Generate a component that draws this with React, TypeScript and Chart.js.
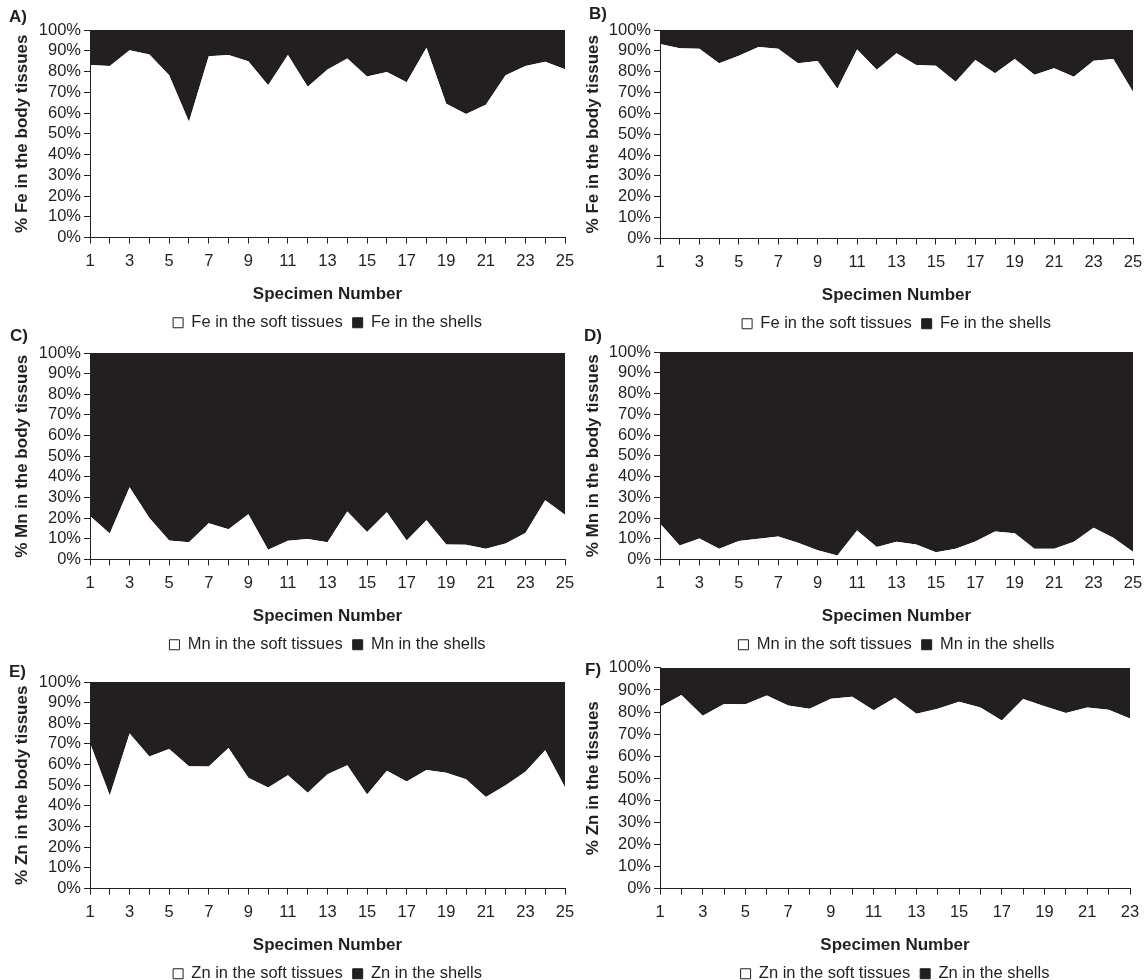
import React, { useEffect, useRef } from "react";
import { Chart, registerables } from "chart.js";

Chart.register(...registerables);

// ---------- data ----------
const specimens25 = ["1","2","3","4","5","6","7","8","9","10","11","12","13","14","15","16","17","18","19","20","21","22","23","24","25"];
const specimens23 = ["1","2","3","4","5","6","7","8","9","10","11","12","13","14","15","16","17","18","19","20","21","22","23"];

const feSoftA = [83.1, 82.7, 90.2, 88.2, 78.2, 55.8, 87.4, 87.9, 85.0, 73.4, 87.9, 72.7, 81.0, 86.3, 77.6, 79.8, 74.8, 91.5, 64.4, 59.5, 64.0, 78.2, 82.7, 84.7, 81.1];
const feShellA = [16.9, 17.3, 9.8, 11.8, 21.8, 44.2, 12.6, 12.1, 15.0, 26.6, 12.1, 27.3, 19.0, 13.7, 22.4, 20.2, 25.2, 8.5, 35.6, 40.5, 36.0, 21.8, 17.3, 15.3, 18.9];

const feSoftB = [93.3, 91.3, 91.0, 84.0, 87.7, 91.8, 91.0, 84.1, 85.1, 71.8, 90.7, 80.9, 88.9, 83.2, 82.9, 75.2, 85.6, 79.3, 86.1, 78.5, 81.7, 77.6, 85.3, 86.1, 70.4];
const feShellB = [6.7, 8.7, 9.0, 16.0, 12.3, 8.2, 9.0, 15.9, 14.9, 28.2, 9.3, 19.1, 11.1, 16.8, 17.1, 24.8, 14.4, 20.7, 13.9, 21.5, 18.3, 22.4, 14.7, 13.9, 29.6];

const mnSoftC = [21.1, 12.6, 35.0, 20.1, 9.2, 8.4, 17.5, 14.6, 21.9, 4.7, 9.1, 9.9, 8.4, 23.3, 13.3, 22.9, 9.2, 19.0, 7.3, 7.1, 5.2, 7.8, 12.8, 28.7, 21.7];
const mnShellC = [78.9, 87.4, 65.0, 79.9, 90.8, 91.6, 82.5, 85.4, 78.1, 95.3, 90.9, 90.1, 91.6, 76.7, 86.7, 77.1, 90.8, 81.0, 92.7, 92.9, 94.8, 92.2, 87.2, 71.3, 78.3];

const mnSoftD = [17.4, 6.8, 10.1, 5.2, 8.9, 10.0, 11.1, 8.1, 4.5, 1.9, 14.0, 6.0, 8.5, 7.2, 3.5, 5.2, 8.7, 13.5, 12.6, 5.2, 5.2, 8.5, 15.3, 10.5, 3.7];
const mnShellD = [82.6, 93.2, 89.9, 94.8, 91.1, 90.0, 88.9, 91.9, 95.5, 98.1, 86.0, 94.0, 91.5, 92.8, 96.5, 94.8, 91.3, 86.5, 87.4, 94.8, 94.8, 91.5, 84.7, 89.5, 96.3];

const znSoftE = [70.4, 45.0, 75.1, 63.9, 67.6, 59.2, 59.1, 68.0, 53.6, 48.9, 54.9, 46.4, 55.3, 59.7, 45.5, 57.0, 51.8, 57.4, 56.0, 52.9, 44.3, 50.0, 56.5, 67.0, 49.0];
const znShellE = [29.6, 55.0, 24.9, 36.1, 32.4, 40.8, 40.9, 32.0, 46.4, 51.1, 45.1, 53.6, 44.7, 40.3, 54.5, 43.0, 48.2, 42.6, 44.0, 47.1, 55.7, 50.0, 43.5, 33.0, 51.0];

const znSoftF = [82.4, 87.7, 78.3, 83.6, 83.5, 87.5, 83.0, 81.5, 86.0, 86.9, 80.8, 86.5, 79.2, 81.5, 84.7, 82.0, 76.2, 85.9, 82.6, 79.5, 82.0, 81.0, 77.1];
const znShellF = [17.6, 12.3, 21.7, 16.4, 16.5, 12.5, 17.0, 18.5, 14.0, 13.1, 19.2, 13.5, 20.8, 18.5, 15.3, 18.0, 23.8, 14.1, 17.4, 20.5, 18.0, 19.0, 22.9];

const yTicks = [0, 10, 20, 30, 40, 50, 60, 70, 80, 90, 100];
const xTitle = "Specimen Number";

// ---------- styles ----------
const DARK = "#231f20";
const FONT = "'Liberation Sans', Arial, Helvetica, sans-serif";
const X_AXIS_H = 67;
const LEGEND_SPACE = 37;

type PanelDef = {
  tag: string;
  tagX: number;
  tagY: number;
  labels: string[];
  soft: number[];
  shells: number[];
  softLabel: string;
  shellLabel: string;
  yTitle: string;
  left: number;
  top: number;
  width: number;
  plotTop: number;
  plotBottom: number;
  plotRight: number;
  yWidth: number;
  yTitlePad: number;
};

const panels: PanelDef[] = [
  { tag: "A)", tagX: 9, tagY: 8, labels: specimens25, soft: feSoftA, shells: feShellA, softLabel: "Fe in the soft tissues", shellLabel: "Fe in the shells", yTitle: "% Fe in the body tissues", left: 0, top: 0, width: 574, plotTop: 30, plotBottom: 237, plotRight: 565, yWidth: 90, yTitlePad: 12 },
  { tag: "B)", tagX: 589, tagY: 5, labels: specimens25, soft: feSoftB, shells: feShellB, softLabel: "Fe in the soft tissues", shellLabel: "Fe in the shells", yTitle: "% Fe in the body tissues", left: 574, top: 0, width: 574, plotTop: 30, plotBottom: 238, plotRight: 1133, yWidth: 86, yTitlePad: 9 },
  { tag: "C)", tagX: 10, tagY: 327, labels: specimens25, soft: mnSoftC, shells: mnShellC, softLabel: "Mn in the soft tissues", shellLabel: "Mn in the shells", yTitle: "% Mn in the body tissues", left: 0, top: 327, width: 574, plotTop: 353, plotBottom: 559, plotRight: 565, yWidth: 90, yTitlePad: 12 },
  { tag: "D)", tagX: 584, tagY: 327, labels: specimens25, soft: mnSoftD, shells: mnShellD, softLabel: "Mn in the soft tissues", shellLabel: "Mn in the shells", yTitle: "% Mn in the body tissues", left: 574, top: 327, width: 574, plotTop: 352, plotBottom: 559, plotRight: 1133, yWidth: 86, yTitlePad: 9 },
  { tag: "E)", tagX: 9, tagY: 663, labels: specimens25, soft: znSoftE, shells: znShellE, softLabel: "Zn in the soft tissues", shellLabel: "Zn in the shells", yTitle: "% Zn in the body tissues", left: 0, top: 655, width: 574, plotTop: 682, plotBottom: 888, plotRight: 565, yWidth: 90, yTitlePad: 12 },
  { tag: "F)", tagX: 585, tagY: 661, labels: specimens23, soft: znSoftF, shells: znShellF, softLabel: "Zn in the soft tissues", shellLabel: "Zn in the shells", yTitle: "% Zn in the tissues", left: 574, top: 655, width: 574, plotTop: 667, plotBottom: 888, plotRight: 1130, yWidth: 86, yTitlePad: 9 },
];

// centre the legend under the plot area rather than the whole canvas
const legendUnderPlot = {
  id: "legendUnderPlot",
  afterLayout(chart: any) {
    const lg = chart.legend;
    if (!lg) return;
    lg.left = chart.chartArea.left;
    lg.right = chart.chartArea.right;
    lg.width = lg.right - lg.left;
  },
};

function PanelChart({ p }: { p: PanelDef }) {
  const ref = useRef<HTMLCanvasElement | null>(null);
  const height = p.plotBottom - p.top + X_AXIS_H + LEGEND_SPACE;

  useEffect(() => {
    if (!ref.current) return;
    const chart = new Chart(ref.current, {
      type: "line",
      data: {
        labels: p.labels,
        datasets: [
          {
            label: p.softLabel,
            data: p.soft,
            fill: "origin",
            backgroundColor: "#ffffff",
            borderColor: "rgba(0,0,0,0)",
            borderWidth: 0,
            pointRadius: 0,
            pointHoverRadius: 0,
            tension: 0,
          },
          {
            label: p.shellLabel,
            data: p.shells,
            fill: "-1",
            backgroundColor: DARK,
            borderColor: "rgba(0,0,0,0)",
            borderWidth: 0,
            pointRadius: 0,
            pointHoverRadius: 0,
            tension: 0,
          },
        ],
      },
      plugins: [legendUnderPlot],
      options: {
        animation: false,
        responsive: false,
        devicePixelRatio: 1,
        events: [],
        layout: {
          padding: { top: p.plotTop - p.top, right: p.left + p.width - p.plotRight, left: 0, bottom: 0 },
        },
        scales: {
          x: {
            type: "category",
            offset: false,
            grid: { display: true, drawOnChartArea: false, drawTicks: true, tickLength: 6, color: DARK, lineWidth: 1 },
            border: { display: true, color: DARK, width: 1, z: 1 },
            ticks: {
              autoSkip: false,
              maxRotation: 0,
              minRotation: 0,
              padding: 8,
              color: DARK,
              font: { family: FONT, size: 16.5 },
              callback: function (this: any, v: any, i: number) {
                return i % 2 === 0 ? p.labels[i] : "";
              },
            },
            title: {
              display: true,
              text: xTitle,
              color: DARK,
              font: { family: FONT, size: 17, weight: "bold" },
              padding: { top: 0, bottom: 0 },
            },
            afterFit: (s: any) => {
              s.height = X_AXIS_H;
              s.paddingLeft = 0;
              s.paddingRight = 0;
            },
          },
          y: {
            stacked: true,
            min: 0,
            max: 100,
            afterBuildTicks: (s: any) => {
              s.ticks = yTicks.map((v) => ({ value: v }));
            },
            grid: { display: true, drawOnChartArea: false, drawTicks: true, tickLength: 6, color: DARK, lineWidth: 1 },
            border: { display: true, color: DARK, width: 1, z: 1 },
            ticks: {
              autoSkip: false,
              padding: 3,
              color: DARK,
              font: { family: FONT, size: 16.5 },
              callback: (v: any) => v + "%",
            },
            title: {
              display: true,
              text: p.yTitle,
              color: DARK,
              font: { family: FONT, size: 17, weight: "bold" },
              padding: { top: p.yTitlePad, bottom: 0 },
            },
            afterFit: (s: any) => {
              s.width = p.yWidth;
            },
          },
        },
        plugins: {
          tooltip: { enabled: false },
          legend: {
            display: true,
            position: "bottom",
            labels: {
              boxWidth: 10,
              boxHeight: 10,
              padding: 10,
              color: DARK,
              font: { family: FONT, size: 16.5 },
              generateLabels: (c: any) =>
                c.data.datasets.map((ds: any, i: number) => ({
                  text: ds.label,
                  fillStyle: i === 0 ? "#ffffff" : DARK,
                  strokeStyle: DARK,
                  lineWidth: 1,
                  hidden: false,
                  datasetIndex: i,
                  fontColor: DARK,
                })),
            },
          },
        },
      } as any,
    });
    return () => chart.destroy();
  }, [p]);

  return (
    <canvas
      ref={ref}
      width={p.width}
      height={height}
      style={{ position: "absolute", left: p.left, top: p.top, width: p.width, height }}
    />
  );
}

export default function App() {
  useEffect(() => {
    document.body.style.margin = "0";
  }, []);
  return (
    <div
      style={{
        position: "absolute",
        left: 0,
        top: 0,
        width: 1148,
        height: 980,
        overflow: "hidden",
        background: "#ffffff",
      }}
    >
      {panels.map((p) => (
        <PanelChart key={p.tag} p={p} />
      ))}
      {panels.map((p) => (
        <div
          key={"t" + p.tag}
          style={{
            position: "absolute",
            left: p.tagX,
            top: p.tagY,
            fontFamily: FONT,
            fontWeight: "bold",
            fontSize: 17,
            lineHeight: "18px",
            color: DARK,
          }}
        >
          {p.tag}
        </div>
      ))}
    </div>
  );
}
